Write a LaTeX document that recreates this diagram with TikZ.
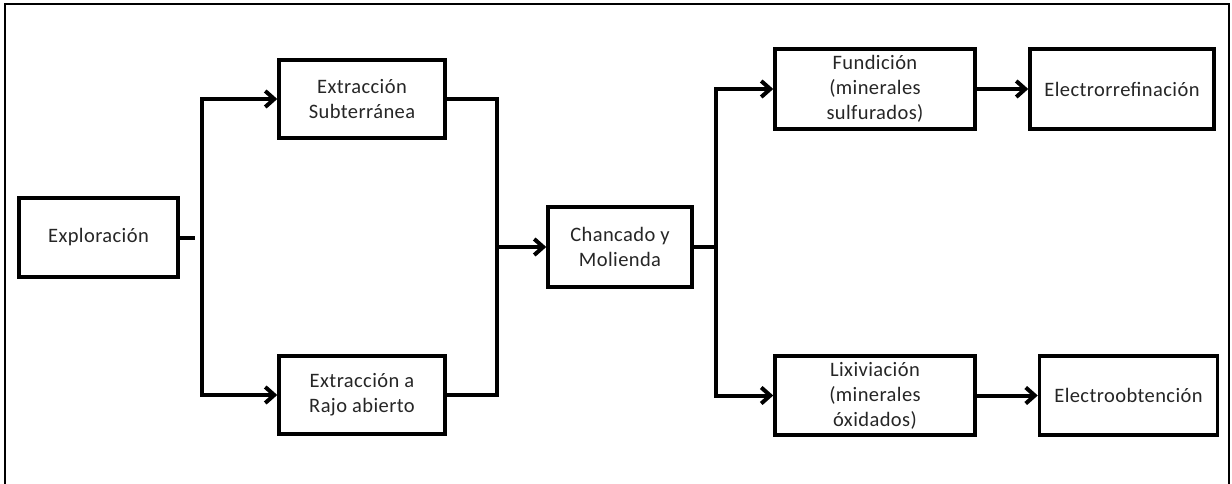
\documentclass[tikz,border=0pt]{standalone}
\usepackage{fontspec}
\setmainfont{Carlito}[LetterSpace=2]
\usetikzlibrary{arrows.meta}
\begin{document}
\begin{tikzpicture}[x=1pt,y=-1pt,
  stage/.style={draw=black, line width=3.5pt, fill=white, inner sep=0pt,
    align=center, font=\fontsize{20.5pt}{25pt}\selectfont, text=black!85},
  link/.style={draw=black, line width=4pt, line join=miter},
  flow/.style={link, -{Straight Barb[length=9pt,width=16pt,line join=miter]}}]
  \useasboundingbox (0,0) rectangle (1232,484);
  % outer frame, open at the bottom
  \draw[line width=2pt] (5,484) -- (5,4) -- (1229,4) -- (1229,484);

  % stages
  \node[stage, minimum width=159pt, minimum height=79pt] (expl) at (98.5,237.5) {Exploración};
  \node[stage, minimum width=166pt, minimum height=78pt] (sub)  at (362,99) {Extracción\\Subterránea};
  \node[stage, minimum width=166pt, minimum height=78pt] (rajo) at (362,395) {Extracción a\\Rajo abierto};
  \node[stage, minimum width=144pt, minimum height=80pt] (chan) at (620,247) {Chancado y\\Molienda};
  \node[stage, minimum width=200pt, minimum height=80pt] (fund) at (875,89) {Fundición\\(minerales\\sulfurados)};
  \node[stage, minimum width=184pt, minimum height=80pt] (elref) at (1122,89) {Electrorrefinación};
  \node[stage, minimum width=200pt, minimum height=79pt] (lix)  at (875,395.5) {Lixiviación\\(minerales\\óxidados)};
  \node[stage, minimum width=178pt, minimum height=79pt] (elob) at (1128.5,395.5) {Electroobtención};

  % junction points
  \coordinate (stubA) at (195,237.5);
  \coordinate (splitA) at (202,237.5);
  \coordinate (merge) at (497,247);
  \coordinate (splitB) at (716,247);

  % exploration splits into the two mining methods
  \draw[link] (expl.east) -- (stubA);
  \draw[flow] (splitA) |- (sub.west);
  \draw[flow] (splitA) |- (rajo.west);

  % both methods feed crushing and grinding
  \draw[link] (sub.east) -| (merge);
  \draw[link] (rajo.east) -| (merge);
  \draw[flow] (merge) -- (chan.west);

  % processing routes
  \draw[link] (chan.east) -- (splitB);
  \draw[flow] (splitB) |- (fund.west);
  \draw[flow] (splitB) |- (lix.west);
  \draw[flow] (fund.east) -- (elref.west);
  \draw[flow] (lix.east) -- (elob.west);
\end{tikzpicture}
\end{document}
